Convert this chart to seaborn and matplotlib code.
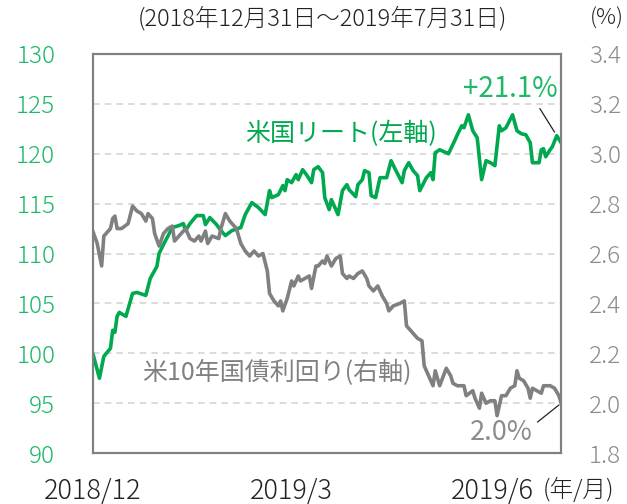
import matplotlib
matplotlib.use("Agg")
import matplotlib.pyplot as plt
import seaborn as sns
import pandas as pd

# days after 2018/12/31 and index values (US REIT, left axis)
reit_day = [0, 3, 5, 8, 9, 10, 11, 12, 15, 18, 20, 24, 26, 29, 30, 32, 36, 39, 41, 42,
            44, 47, 50, 51, 53, 56, 58, 60, 63, 67, 69, 72, 75, 78, 80, 81, 84, 86, 87, 88,
            90, 92, 93, 95, 97, 99, 100, 102, 104, 105, 107, 108, 111, 113, 115, 116, 119, 120, 122, 123,
            125, 126, 128, 130, 133, 135, 137, 140, 141, 143, 145, 147, 148, 151, 153, 154, 155, 157, 160, 161,
            164, 165, 167, 168, 170, 172, 174, 176, 178, 180, 182, 184, 185, 187, 190, 192, 194, 196, 198, 199,
            202, 203, 204, 205, 207, 208, 210, 212]
reit_val = [100.0, 97.5, 99.7, 100.5, 102.3, 102.1, 103.7, 104.1, 103.7, 106.0, 106.1, 105.8, 107.5, 108.7, 110.0, 110.9, 112.6, 112.8, 113.0, 112.3,
            113.0, 113.8, 113.8, 112.9, 113.6, 112.9, 112.3, 111.8, 112.3, 112.6, 113.9, 115.1, 114.6, 113.9, 116.3, 115.6, 115.9, 116.8, 116.3, 117.4,
            117.1, 117.9, 117.4, 118.4, 117.8, 117.1, 118.4, 118.7, 118.1, 115.6, 114.4, 115.4, 113.9, 116.3, 116.9, 116.4, 115.7, 116.9, 117.4, 118.3,
            118.1, 115.8, 115.6, 117.6, 117.6, 119.3, 118.4, 117.1, 118.3, 119.1, 118.3, 117.8, 116.3, 117.6, 118.1, 117.4, 120.1, 120.4, 120.1, 120.0,
            121.4, 121.9, 122.8, 122.6, 123.9, 122.3, 121.6, 117.4, 119.3, 119.1, 118.8, 122.8, 122.3, 122.6, 123.9, 122.3, 122.0, 121.9, 121.1, 119.1,
            119.1, 120.4, 120.5, 119.7, 120.4, 120.7, 121.8, 121.1]

# days after 2018/12/31 and US 10y yield in % (right axis)
yld_day = [0, 2, 4, 5, 8, 9, 10, 11, 13, 16, 18, 20, 22, 24, 25, 27, 28, 30, 32, 34,
           36, 37, 40, 42, 44, 46, 48, 49, 51, 52, 54, 57, 58, 60, 62, 65, 67, 69, 71, 73,
           75, 77, 79, 80, 82, 84, 85, 86, 88, 90, 91, 93, 94, 96, 98, 99, 101, 102, 104, 105,
           106, 108, 110, 112, 113, 115, 116, 118, 120, 122, 124, 125, 127, 129, 131, 133, 134, 136, 139, 141,
           142, 144, 147, 149, 150, 152, 154, 155, 157, 160, 162, 163, 165, 168, 169, 172, 173, 175, 176, 178,
           180, 182, 183, 185, 187, 189, 191, 192, 193, 195, 197, 198, 199, 201, 203, 204, 206, 207, 209, 211, 212]
yld_val = [2.69, 2.64, 2.55, 2.67, 2.70, 2.74, 2.75, 2.70, 2.70, 2.72, 2.79, 2.77, 2.76, 2.73, 2.76, 2.74, 2.68, 2.63, 2.68, 2.70,
           2.71, 2.65, 2.68, 2.70, 2.66, 2.65, 2.67, 2.65, 2.69, 2.64, 2.67, 2.66, 2.70, 2.76, 2.73, 2.70, 2.64, 2.61, 2.59, 2.61,
           2.59, 2.60, 2.53, 2.44, 2.41, 2.39, 2.41, 2.37, 2.42, 2.49, 2.47, 2.51, 2.49, 2.50, 2.51, 2.46, 2.55, 2.55, 2.57, 2.56,
           2.59, 2.55, 2.58, 2.59, 2.52, 2.50, 2.51, 2.50, 2.52, 2.53, 2.50, 2.47, 2.45, 2.47, 2.43, 2.40, 2.37, 2.39, 2.40, 2.41,
           2.31, 2.29, 2.26, 2.25, 2.15, 2.11, 2.07, 2.13, 2.07, 2.14, 2.11, 2.08, 2.07, 2.07, 2.03, 2.05, 2.02, 1.98, 2.04, 2.00,
           2.01, 2.01, 1.95, 2.03, 2.03, 2.06, 2.07, 2.13, 2.10, 2.09, 2.06, 2.02, 2.06, 2.05, 2.04, 2.07, 2.07, 2.07, 2.06, 2.03, 2.00]

tick_days = [0, 90, 181]
tick_labels = ["2018/12", "2019/3", "2019/6"]
left_ticks = [90, 95, 100, 105, 110, 115, 120, 125, 130]
right_ticks = [1.8, 2.0, 2.2, 2.4, 2.6, 2.8, 3.0, 3.2, 3.4]

GREEN = "#00a84f"
GREEN_TXT = "#1fb868"
GRAY = "#808080"
GRAY_TXT = "#8c8c8c"

sns.set_style("white")
plt.rcParams["font.family"] = ["Noto Sans CJK JP", "DejaVu Sans"]
plt.rcParams["font.weight"] = "light"

reit = pd.DataFrame({"day": reit_day, "value": reit_val})
yld = pd.DataFrame({"day": yld_day, "value": yld_val})

fig = plt.figure(figsize=(6.27, 5.04), dpi=100)
ax = fig.add_axes([0.148, 0.101, 0.747, 0.792])
ax2 = ax.twinx()

sns.lineplot(data=reit, x="day", y="value", ax=ax, color=GREEN, linewidth=2.6)
sns.lineplot(data=yld, x="day", y="value", ax=ax2, color=GRAY, linewidth=2.6)

ax.set_xlim(0, 212)
ax.set_ylim(90, 130)
ax2.set_ylim(1.8, 3.4)

ax.set_yticks(left_ticks)
ax.set_yticklabels([str(t) for t in left_ticks])
ax2.set_yticks(right_ticks)
ax2.set_yticklabels([f"{t:.1f}" for t in right_ticks])
ax.set_xticks(tick_days)
ax.set_xticklabels(tick_labels)

ax.tick_params(axis="y", length=0, pad=27, labelsize=17.5, labelcolor=GREEN_TXT)
ax2.tick_params(axis="y", length=0, pad=20, labelsize=17.5, labelcolor=GRAY_TXT)
ax.tick_params(axis="x", direction="in", length=7, width=1.3, color=GRAY, pad=17,
               labelsize=19.5, labelcolor="#222222")

ax.set_xlabel("")
ax.set_ylabel("")
ax2.set_ylabel("")

ax.grid(False)
ax2.grid(False)
for t in left_ticks[1:-1]:
    ax.axhline(t, color="#d6d6d6", linewidth=1.2, linestyle=(0, (4, 3)), zorder=0)

for a in (ax, ax2):
    for s in a.spines.values():
        s.set_color(GRAY)
        s.set_linewidth(1.5)

fig.text(0.515, 0.962, "(2018年12月31日～2019年7月31日)", ha="center", va="center",
         fontsize=17, color="#222222")
fig.text(0.968, 0.962, "(%)", ha="center", va="center", fontsize=16, color="#222222")
fig.text(0.922, 0.026, "(年/月)", ha="center", va="center", fontsize=17, color="#222222")

ax.text(0.326, 0.799, "米国リート(左軸)", transform=ax.transAxes, ha="left", va="center",
        fontsize=18, color=GREEN, fontweight="normal")
ax.annotate("+21.1%", xy=(reit_day[-1], reit_val[-1]), xytext=(0.993, 0.912),
            textcoords="axes fraction", ha="right", va="center", fontsize=20,
            color=GREEN_TXT, fontweight="normal",
            arrowprops=dict(arrowstyle="-", color="#222222", lw=0.9,
                            relpos=(0.78, 0.0), shrinkA=1, shrinkB=9))
ax.text(0.105, 0.2, "米10年国債利回り(右軸)", transform=ax.transAxes, ha="left", va="center",
        fontsize=18, color=GRAY, fontweight="normal")
ax2.annotate("2.0%", xy=(yld_day[-1], yld_val[-1]), xytext=(0.94, 0.052),
             textcoords="axes fraction", ha="right", va="center", fontsize=19.5,
             color=GRAY_TXT, fontweight="normal",
             arrowprops=dict(arrowstyle="-", color="#222222", lw=0.9,
                             relpos=(1.0, 0.75), shrinkA=1, shrinkB=2))

fig.savefig("out.png", dpi=100)
